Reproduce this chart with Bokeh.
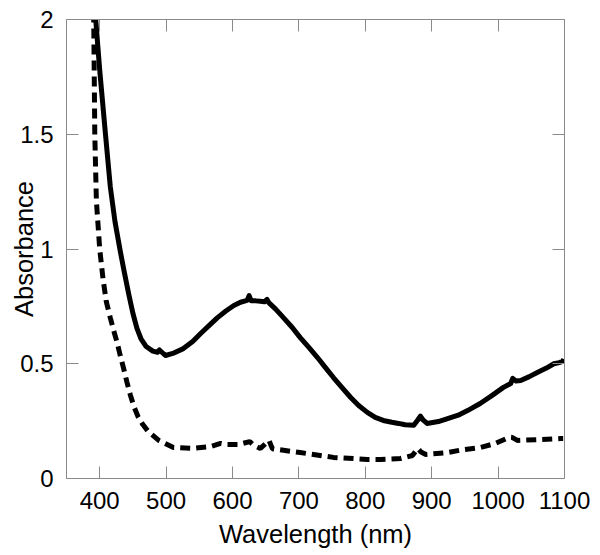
from bokeh.plotting import figure
from bokeh.models import Range1d, LinearAxis, FixedTicker
from bokeh.embed import file_html
from bokeh.resources import INLINE

# ---- data ----
solid_wl = [391.5, 394, 400, 408.7, 416, 423, 431, 437, 444, 450, 456, 462, 470, 480, 487, 490, 499,
            510, 526, 540, 552, 565, 577, 590, 602, 612, 622, 625, 628, 635, 642, 648, 652, 655,
            665, 677, 690, 702, 715, 728, 740, 752, 765, 778, 790, 803, 815, 827, 840, 850, 860,
            873, 879, 883, 887, 893, 910, 924, 940, 954, 973, 990, 1008, 1019, 1022, 1027, 1034,
            1047, 1059, 1072, 1084, 1092, 1097, 1099]
solid_abs = [2.07, 2.0, 1.78, 1.50, 1.27, 1.12, 0.99, 0.90, 0.80, 0.72, 0.655, 0.61, 0.575, 0.555, 0.55, 0.56, 0.536,
             0.545, 0.566, 0.597, 0.632, 0.667, 0.70, 0.73, 0.754, 0.768, 0.776, 0.797, 0.775, 0.774, 0.772, 0.770, 0.780, 0.765,
             0.738, 0.70, 0.658, 0.614, 0.571, 0.527, 0.483, 0.44, 0.396, 0.353, 0.318, 0.288, 0.266, 0.253, 0.245, 0.24, 0.234,
             0.232, 0.255, 0.272, 0.255, 0.24, 0.248, 0.261, 0.276, 0.296, 0.327, 0.36, 0.397, 0.414, 0.436, 0.425, 0.427,
             0.444, 0.462, 0.480, 0.50, 0.505, 0.51, 0.52]

dash_wl = [389.5, 391, 392.6, 395, 400, 405, 410, 416, 421, 426, 431, 436, 441, 446, 452, 458, 465, 473, 489, 511, 540, 567,
           582, 592, 609, 626, 632, 642, 655, 660, 669, 702, 752, 803, 823, 853, 871, 879, 884, 891,
           924, 948, 973, 996, 1017, 1021, 1029, 1064, 1094, 1098]
dash_abs = [2.1, 2.0, 1.50, 1.21, 1.00, 0.87, 0.77, 0.70, 0.645, 0.595, 0.535, 0.48, 0.42, 0.365, 0.31, 0.268, 0.235, 0.205,
            0.166, 0.135, 0.131, 0.139,
            0.153, 0.148, 0.148, 0.161, 0.145, 0.131, 0.166, 0.13, 0.126, 0.113, 0.092, 0.083, 0.083, 0.087, 0.10, 0.131, 0.115, 0.105,
            0.113, 0.126, 0.135, 0.153, 0.18, 0.179, 0.166, 0.17, 0.174, 0.174]

x_ticks = [400, 500, 600, 700, 800, 900, 1000, 1100]
y_ticks = [0, 0.5, 1, 1.5, 2]
y_tick_labels = ["0", "0.5", "1", "1.5", "2"]

FONT = "Liberation Sans"
AX = "#8a8a8a"

p = figure(width=600, height=555, output_backend="svg", toolbar_location=None,
           x_range=Range1d(350, 1100), y_range=Range1d(0, 2),
           min_border_left=66, min_border_right=36, min_border_top=19, min_border_bottom=77)
p.outline_line_color = None
p.grid.visible = False
p.background_fill_color = "white"
p.border_fill_color = "white"

p.line(solid_wl, solid_abs, line_color="black", line_width=5, line_join="round")
p.line(dash_wl, dash_abs, line_color="black", line_width=5, line_dash="10 6")

def style(ax, ticks):
    ax.ticker = FixedTicker(ticks=ticks)
    ax.axis_line_color = AX
    ax.axis_line_width = 1
    ax.major_tick_line_color = AX
    ax.major_tick_in = 12
    ax.major_tick_out = 0
    ax.minor_tick_line_color = None
    ax.major_label_text_font = FONT
    ax.major_label_text_font_size = "24px"
    ax.major_label_text_color = "black"
    ax.axis_label_text_font = FONT
    ax.axis_label_text_font_size = "25.5px"
    ax.axis_label_text_font_style = "normal"
    ax.axis_label_text_color = "black"

xa = p.xaxis[0]
style(xa, x_ticks)
xa.axis_label = "Wavelength (nm)"
xa.major_label_standoff = 13
xa.axis_label_standoff = 8

ya = p.yaxis[0]
style(ya, y_ticks)
ya.major_label_overrides = {t: s for t, s in zip(y_ticks, y_tick_labels)}
ya.axis_label = "Absorbance"
ya.major_label_standoff = 13
ya.axis_label_standoff = -21

top = LinearAxis()
style(top, x_ticks)
top.major_label_overrides = {t: "" for t in x_ticks}
top.major_label_text_font_size = "1px"
top.major_label_standoff = 0
p.add_layout(top, "above")

right = LinearAxis()
style(right, y_ticks)
right.major_label_overrides = {t: "" for t in y_ticks}
right.major_label_text_font_size = "1px"
right.major_label_standoff = 0
p.add_layout(right, "right")

open("out.html", "w").write(file_html(p, INLINE))
